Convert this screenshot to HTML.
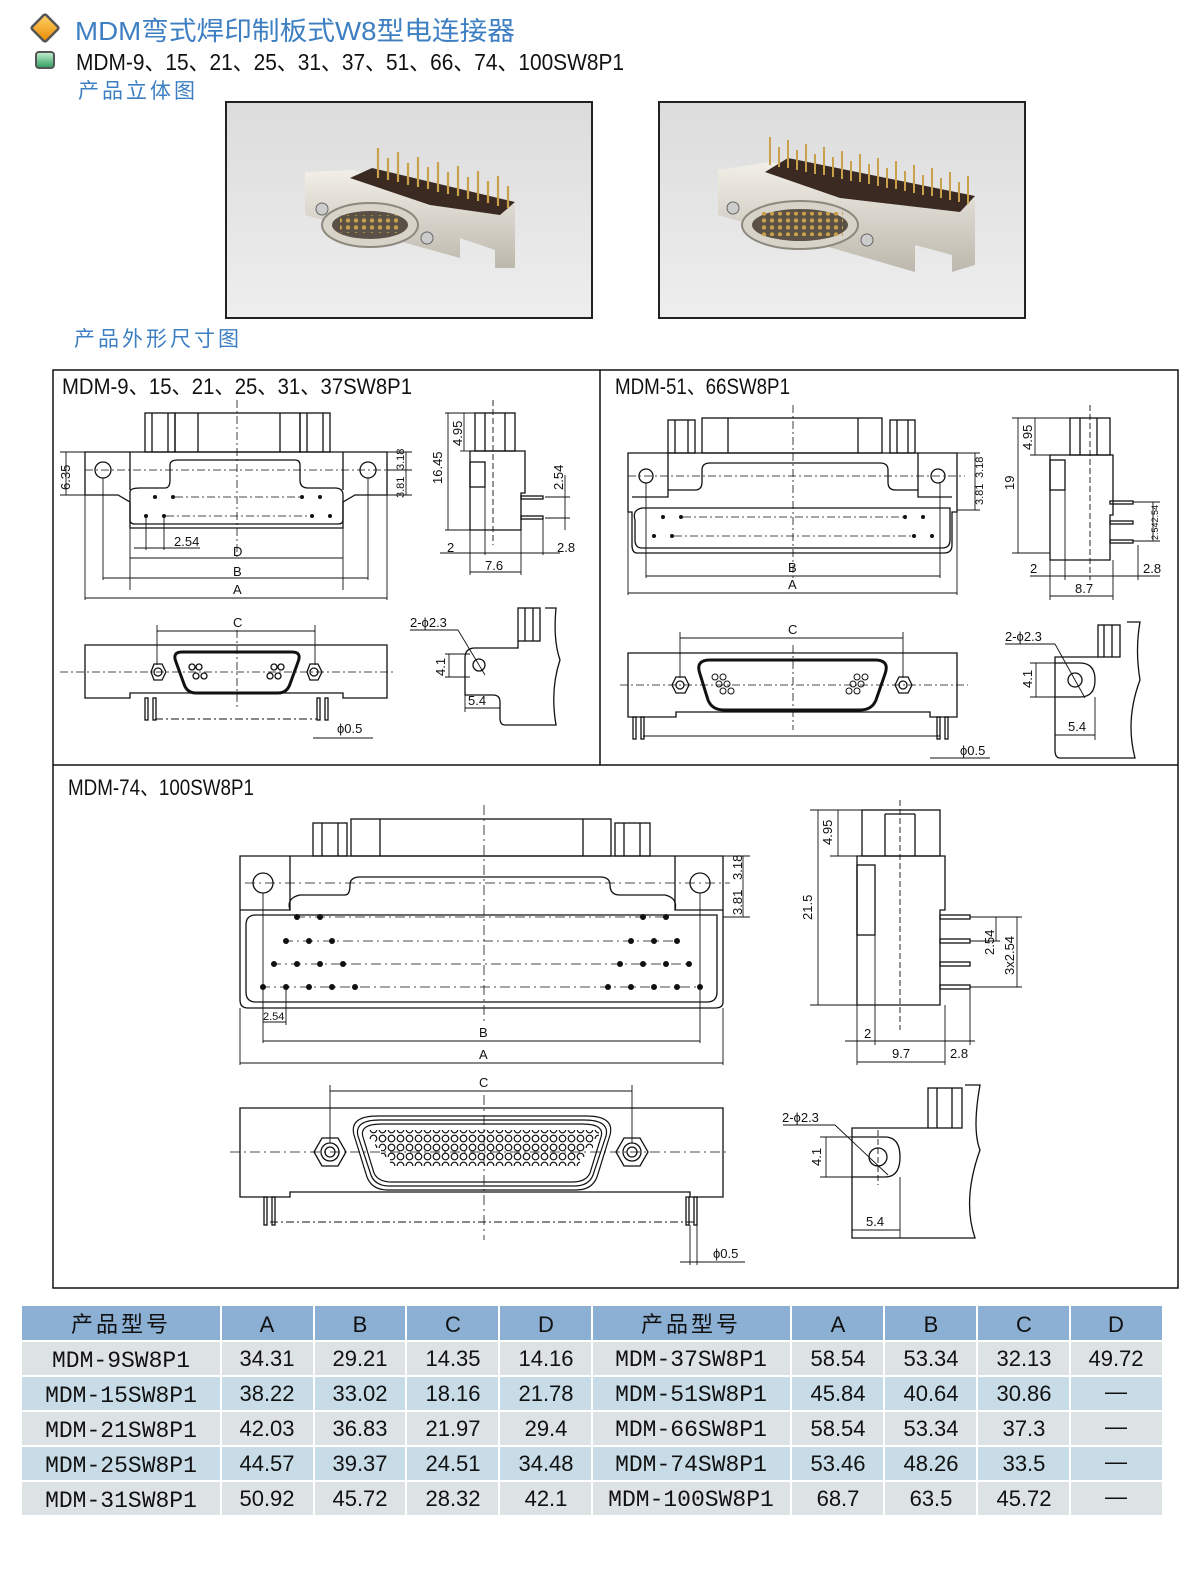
<!DOCTYPE html>
<html><head><meta charset="utf-8"><style>
html,body{margin:0;padding:0;background:#fff;width:1200px;height:1586px;overflow:hidden}
svg{display:block}
.t{font-family:"Liberation Sans","Noto Sans CJK SC",sans-serif}
.n{font-family:"Liberation Sans",sans-serif;font-size:13px;fill:#111}
</style></head><body>
<svg width="1200" height="1586" viewBox="0 0 1200 1586" xmlns="http://www.w3.org/2000/svg">
<defs>
<linearGradient id="bg" x1="0" y1="0" x2="0" y2="1"><stop offset="0" stop-color="#dcdcdc"/><stop offset="1" stop-color="#eeeeee"/></linearGradient>
<linearGradient id="orng" x1="0" y1="0" x2="1" y2="1"><stop offset="0" stop-color="#ffd36b"/><stop offset="1" stop-color="#e88a00"/></linearGradient>
<linearGradient id="grn" x1="0" y1="0" x2="0" y2="1"><stop offset="0" stop-color="#c8efd6"/><stop offset="1" stop-color="#2e9d5c"/></linearGradient>
<linearGradient id="met" x1="0" y1="0" x2="0" y2="1"><stop offset="0" stop-color="#f2efe8"/><stop offset="1" stop-color="#bdb8ad"/></linearGradient>
<pattern id="pins" x="0" y="0" width="9" height="9" patternUnits="userSpaceOnUse"><circle cx="4.5" cy="4.5" r="3.3" fill="none" stroke="#111" stroke-width="1.2"/></pattern>
<pattern id="gold" x="0" y="0" width="8" height="7" patternUnits="userSpaceOnUse"><circle cx="4" cy="3.5" r="2.2" fill="#c8a04a"/></pattern>
<clipPath id="c1"><rect x="226" y="102" width="366" height="216"/></clipPath>
<clipPath id="c2"><rect x="659" y="102" width="366" height="216"/></clipPath>
</defs>

<!-- header -->
<g transform="translate(45,28) rotate(45)"><rect x="-10" y="-10" width="20" height="20" rx="2" fill="url(#orng)" stroke="#555" stroke-width="2.5"/></g>
<text x="75" y="40" class="t" font-size="26" fill="#3d7fc2" textLength="440" lengthAdjust="spacingAndGlyphs">MDM弯式焊印制板式W8型电连接器</text>
<rect x="36" y="52" width="18" height="16" rx="3" fill="url(#grn)" stroke="#555" stroke-width="2"/>
<text x="76" y="70" class="t" font-size="23" fill="#111" textLength="548" lengthAdjust="spacingAndGlyphs">MDM-9、15、21、25、31、37、51、66、74、100SW8P1</text>
<text x="78" y="98" class="t" font-size="21" fill="#3d7fc2" letter-spacing="3">产品立体图</text>
<text x="74" y="346" class="t" font-size="21" fill="#3d7fc2" letter-spacing="3">产品外形尺寸图</text>

<!-- photos -->
<rect x="226" y="102" width="366" height="216" fill="url(#bg)" stroke="#222" stroke-width="2"/>
<g clip-path="url(#c1)">
<polygon points="305,172 352,170 515,205 515,268 495,268 495,250 460,238 460,258 305,215" fill="url(#met)"/>
<polygon points="350,178 372,168 515,202 500,215 430,205" fill="#3b2a22"/>
<path d="M378,178v-30M388,180v-22M398,182v-30M408,185v-22M418,187v-30M428,189v-22M438,192v-30M448,194v-22M458,196v-30M468,199v-22M478,201v-30M488,203v-22M498,206v-30M508,208v-22" stroke="#c9a14a" stroke-width="2.2"/>
<ellipse cx="370" cy="225" rx="48" ry="22" fill="#d7d3c8" stroke="#8d887d" stroke-width="2"/>
<ellipse cx="370" cy="225" rx="38" ry="14" fill="#5b5045"/>
<rect x="340" y="215" width="60" height="18" fill="url(#gold)"/>
<circle cx="322" cy="209" r="6" fill="#ccc" stroke="#666"/>
<circle cx="427" cy="238" r="6" fill="#ccc" stroke="#666"/>
</g>
<rect x="659" y="102" width="366" height="216" fill="url(#bg)" stroke="#222" stroke-width="2"/>
<g clip-path="url(#c2)">
<polygon points="718,170 770,162 975,200 975,265 952,272 952,255 915,245 915,272 718,215" fill="url(#met)"/>
<polygon points="765,172 788,158 975,196 960,212 840,198" fill="#3b2a22"/>
<path d="M770,165v-28M779,167v-20M788,168v-28M797,170v-20M806,172v-28M815,174v-20M824,175v-28M833,177v-20M842,179v-28M851,181v-20M860,182v-28M869,184v-20M878,186v-28M887,188v-20M896,189v-28M905,191v-20M914,193v-28M923,195v-20M932,196v-28M941,198v-20M950,200v-28M959,202v-20M968,204v-28" stroke="#c9a14a" stroke-width="2"/>
<ellipse cx="800" cy="225" rx="58" ry="24" fill="#d7d3c8" stroke="#8d887d" stroke-width="2"/>
<ellipse cx="800" cy="225" rx="48" ry="16" fill="#5b5045"/>
<rect x="758" y="212" width="85" height="24" fill="url(#gold)"/>
<circle cx="733" cy="208" r="6" fill="#ccc" stroke="#666"/>
<circle cx="867" cy="240" r="6" fill="#ccc" stroke="#666"/>
</g>

<!-- panels frame -->
<g fill="none" stroke="#111" stroke-width="1.5">
<rect x="53" y="370" width="1125" height="918"/>
<line x1="600" y1="370" x2="600" y2="765"/>
<line x1="53" y1="765" x2="1178" y2="765"/>
</g>
<g class="t" font-size="22" fill="#111">
<text x="62" y="394" textLength="350" lengthAdjust="spacingAndGlyphs">MDM-9、15、21、25、31、37SW8P1</text>
<text x="615" y="394" textLength="175" lengthAdjust="spacingAndGlyphs">MDM-51、66SW8P1</text>
<text x="68" y="795" textLength="186" lengthAdjust="spacingAndGlyphs">MDM-74、100SW8P1</text>
</g>

<!-- PANEL 1 -->
<g fill="none" stroke="#111" stroke-width="1.3">
<rect x="145" y="413" width="30" height="39"/><line x1="152" y1="413" x2="152" y2="452"/><line x1="168" y1="413" x2="168" y2="452"/>
<rect x="300" y="413" width="30" height="39"/><line x1="307" y1="413" x2="307" y2="452"/><line x1="323" y1="413" x2="323" y2="452"/>
<rect x="175" y="413" width="125" height="39"/><line x1="198" y1="413" x2="198" y2="452"/><line x1="280" y1="413" x2="280" y2="452"/>
<path d="M85,452 H387 V495 H355 L343,502 V528 H130 V502 L118,495 H85 Z"/>
<path d="M130,452 V490 M343,452 V490"/>
<path d="M130,492 Q130,488 140,488 H165 Q170,488 170,480 V465 Q170,460 178,460 H295 Q300,460 300,465 V480 Q300,488 308,488 H335 Q343,488 343,495 V520 Q343,524 338,524 H135 Q130,524 130,520 Z"/>
<circle cx="103" cy="470" r="8"/><circle cx="368" cy="470" r="8"/>
</g>
<g fill="#111">
<circle cx="155" cy="497" r="2"/><circle cx="173" cy="497" r="2"/><circle cx="302" cy="497" r="2"/><circle cx="320" cy="497" r="2"/>
<circle cx="146" cy="516" r="2"/><circle cx="164" cy="516" r="2"/><circle cx="312" cy="516" r="2"/><circle cx="330" cy="516" r="2"/>
</g>
<g stroke="#111" stroke-width="0.8" fill="none" stroke-dasharray="8,3,2,3">
<line x1="237" y1="400" x2="237" y2="560"/><line x1="85" y1="470" x2="395" y2="470"/>
<line x1="175" y1="497" x2="300" y2="497"/><line x1="166" y1="516" x2="310" y2="516"/>
<line x1="60" y1="672" x2="395" y2="672"/><line x1="237" y1="630" x2="237" y2="710"/>
</g>
<g stroke="#111" stroke-width="0.9" fill="none">
<line x1="130" y1="528" x2="130" y2="590"/><line x1="343" y1="528" x2="343" y2="590"/>
<line x1="103" y1="478" x2="103" y2="580"/><line x1="368" y1="478" x2="368" y2="580"/>
<line x1="85" y1="495" x2="85" y2="600"/><line x1="387" y1="495" x2="387" y2="600"/>
<line x1="146" y1="516" x2="146" y2="550"/><line x1="164" y1="516" x2="164" y2="550"/>
<line x1="134" y1="548" x2="200" y2="548"/>
<line x1="130" y1="558" x2="343" y2="558"/><line x1="103" y1="578" x2="368" y2="578"/><line x1="85" y1="598" x2="387" y2="598"/>
<line x1="60" y1="452" x2="85" y2="452"/><line x1="60" y1="495" x2="85" y2="495"/><line x1="66" y1="452" x2="66" y2="495"/>
<line x1="387" y1="452" x2="412" y2="452"/><line x1="387" y1="495" x2="412" y2="495"/><line x1="387" y1="470" x2="412" y2="470"/><line x1="406" y1="452" x2="406" y2="495"/>
</g>
<g class="n">
<text x="174" y="546">2.54</text><text x="233" y="556">D</text><text x="233" y="576">B</text><text x="233" y="594">A</text>
<text x="70" y="490" transform="rotate(-90 70 490)">6.35</text>
<text x="404" y="470" transform="rotate(-90 404 470)" font-size="11">3.18</text>
<text x="404" y="498" transform="rotate(-90 404 498)" font-size="11">3.81</text>
</g>
<!-- side view 1 -->
<g fill="none" stroke="#111" stroke-width="1.3">
<rect x="475" y="413" width="40" height="38"/><line x1="485" y1="413" x2="485" y2="451"/><line x1="505" y1="413" x2="505" y2="451"/>
<path d="M470,451 H525 V493 H521 V530 H470 Z"/>
<rect x="470" y="462" width="15" height="25"/>
<rect x="521" y="496" width="22" height="3"/><rect x="521" y="516" width="22" height="3"/>
</g>
<g stroke="#111" stroke-width="0.9" fill="none">
<line x1="445" y1="413" x2="475" y2="413"/><line x1="445" y1="530" x2="470" y2="530"/><line x1="448" y1="413" x2="448" y2="530"/>
<line x1="460" y1="451" x2="470" y2="451"/><line x1="464" y1="413" x2="464" y2="451"/>
<line x1="545" y1="497" x2="570" y2="497"/><line x1="545" y1="518" x2="570" y2="518"/><line x1="565" y1="475" x2="565" y2="530"/>
<line x1="470" y1="530" x2="470" y2="575"/><line x1="485" y1="487" x2="485" y2="555"/><line x1="521" y1="530" x2="521" y2="575"/><line x1="543" y1="518" x2="543" y2="555"/>
<line x1="440" y1="553" x2="560" y2="553"/><line x1="470" y1="572" x2="521" y2="572"/>
<line x1="493" y1="400" x2="493" y2="545" stroke-dasharray="6,3"/>
</g>
<g class="n"><text x="447" y="552">2</text><text x="485" y="570">7.6</text><text x="557" y="552">2.8</text>
<text x="442" y="484" transform="rotate(-90 442 484)">16.45</text><text x="462" y="446" transform="rotate(-90 462 446)">4.95</text><text x="563" y="490" transform="rotate(-90 563 490)">2.54</text></g>
<!-- bottom view 1 -->
<g fill="none" stroke="#111" stroke-width="1.3">
<path d="M85,645 H387 V698 H343 V693 H130 V698 H85 Z"/>
<path d="M182,652 H292 Q302,652 298,662 L290,684 Q287,693 278,693 H196 Q187,693 184,684 L176,662 Q172,652 182,652 Z" stroke-width="3"/>
<polygon points="151,672 154,664 162,664 166,672 162,680 154,680"/><circle cx="158" cy="672" r="4"/>
<polygon points="307,672 310,664 318,664 322,672 318,680 310,680"/><circle cx="314" cy="672" r="4"/>
<circle cx="192" cy="667" r="3"/><circle cx="199" cy="667" r="3"/><circle cx="196" cy="676" r="3"/><circle cx="204" cy="676" r="3"/>
<circle cx="274" cy="667" r="3"/><circle cx="281" cy="667" r="3"/><circle cx="270" cy="676" r="3"/><circle cx="278" cy="676" r="3"/>
<rect x="145" y="698" width="3" height="22"/><rect x="153" y="698" width="3" height="22"/>
<rect x="317" y="698" width="3" height="22"/><rect x="325" y="698" width="3" height="22"/>
</g>
<g stroke="#111" stroke-width="0.9" fill="none">
<line x1="157" y1="625" x2="157" y2="665"/><line x1="315" y1="625" x2="315" y2="665"/><line x1="157" y1="631" x2="315" y2="631"/>
<line x1="155" y1="719" x2="317" y2="719" stroke-dasharray="8,3,2,3"/>
<line x1="313" y1="738" x2="373" y2="738"/>
</g>
<g class="n"><text x="233" y="627">C</text><text x="337" y="733">ϕ0.5</text></g>
<!-- detail 1 -->
<g fill="none" stroke="#111" stroke-width="1.3">
<rect x="518" y="608" width="22" height="33"/><line x1="525" y1="608" x2="525" y2="641"/><line x1="533" y1="608" x2="533" y2="641"/>
<path d="M545,608 H556 Q553,640 560,660 Q550,690 556,725 H505 Q500,725 500,718 V702 Q500,695 493,695 H465 V658 Q465,648 475,648 H518 V641"/>
<circle cx="479" cy="665" r="6"/>
</g>
<g stroke="#111" stroke-width="0.9" fill="none">
<line x1="410" y1="630" x2="458" y2="630"/><line x1="458" y1="630" x2="485" y2="675"/>
<line x1="445" y1="654" x2="470" y2="654"/><line x1="445" y1="677" x2="470" y2="677"/><line x1="449" y1="654" x2="449" y2="677"/>
<line x1="465" y1="695" x2="465" y2="712"/><line x1="500" y1="700" x2="500" y2="712"/><line x1="465" y1="708" x2="500" y2="708"/>
</g>
<g class="n"><text x="410" y="627">2-ϕ2.3</text><text x="445" y="676" transform="rotate(-90 445 676)">4.1</text><text x="468" y="705">5.4</text></g>

<!-- PANEL 2 -->
<g fill="none" stroke="#111" stroke-width="1.3">
<rect x="668" y="420" width="27" height="33"/><line x1="675" y1="420" x2="675" y2="453"/><line x1="688" y1="420" x2="688" y2="453"/>
<rect x="890" y="420" width="25" height="33"/><line x1="897" y1="420" x2="897" y2="453"/><line x1="908" y1="420" x2="908" y2="453"/>
<rect x="702" y="418" width="180" height="35"/><line x1="728" y1="418" x2="728" y2="453"/><line x1="858" y1="418" x2="858" y2="453"/>
<path d="M628,453 H957 V512 H952 V545 Q952,553 944,553 H637 Q632,553 632,545 V512 H628 Z"/>
<path d="M668,453 V497 H632 M918,453 V497 H952"/>
<path d="M635,520 Q632,510 642,508 H950 V540 Q950,548 942,548 H642 Q635,548 635,540 Z"/>
<path d="M668,490 H695 Q702,490 702,482 V470 Q702,463 710,463 H880 Q888,463 888,470 V482 Q888,490 895,490 H918"/>
<circle cx="646" cy="476" r="7"/><circle cx="938" cy="476" r="7"/>
</g>
<g fill="#111">
<circle cx="663" cy="517" r="2"/><circle cx="681" cy="517" r="2"/><circle cx="905" cy="517" r="2"/><circle cx="923" cy="517" r="2"/>
<circle cx="654" cy="536" r="2"/><circle cx="672" cy="536" r="2"/><circle cx="914" cy="536" r="2"/><circle cx="932" cy="536" r="2"/>
</g>
<g stroke="#111" stroke-width="0.8" fill="none" stroke-dasharray="8,3,2,3">
<line x1="793" y1="405" x2="793" y2="580"/><line x1="628" y1="476" x2="965" y2="476"/>
<line x1="683" y1="517" x2="903" y2="517"/><line x1="674" y1="536" x2="912" y2="536"/>
<line x1="620" y1="685" x2="968" y2="685"/><line x1="793" y1="645" x2="793" y2="730"/>
</g>
<g stroke="#111" stroke-width="0.9" fill="none">
<line x1="646" y1="483" x2="646" y2="578"/><line x1="940" y1="483" x2="940" y2="578"/>
<line x1="628" y1="512" x2="628" y2="595"/><line x1="957" y1="512" x2="957" y2="595"/>
<line x1="646" y1="576" x2="940" y2="576"/><line x1="628" y1="593" x2="957" y2="593"/>
<line x1="957" y1="453" x2="980" y2="453"/><line x1="957" y1="510" x2="980" y2="510"/><line x1="975" y1="453" x2="975" y2="510"/>
</g>
<g class="n"><text x="788" y="572">B</text><text x="788" y="589">A</text>
<text x="983" y="478" transform="rotate(-90 983 478)" font-size="11">3.18</text><text x="983" y="505" transform="rotate(-90 983 505)" font-size="11">3.81</text></g>
<!-- side 2 -->
<g fill="none" stroke="#111" stroke-width="1.3">
<rect x="1070" y="418" width="40" height="37"/><line x1="1080" y1="418" x2="1080" y2="455"/><line x1="1097" y1="418" x2="1097" y2="455"/>
<path d="M1050,455 H1113 V515 H1110 V560 H1050 Z"/>
<rect x="1050" y="460" width="15" height="30"/>
<rect x="1110" y="501" width="23" height="3"/><rect x="1110" y="521" width="23" height="3"/><rect x="1110" y="540" width="23" height="3"/>
</g>
<g stroke="#111" stroke-width="0.9" fill="none">
<line x1="1012" y1="418" x2="1070" y2="418"/><line x1="1012" y1="553" x2="1050" y2="553"/><line x1="1018" y1="418" x2="1018" y2="553"/>
<line x1="1030" y1="455" x2="1050" y2="455"/><line x1="1035" y1="418" x2="1035" y2="455"/>
<line x1="1133" y1="502" x2="1160" y2="502"/><line x1="1133" y1="541" x2="1160" y2="541"/><line x1="1153" y1="502" x2="1153" y2="541"/>
<line x1="1050" y1="560" x2="1050" y2="600"/><line x1="1065" y1="490" x2="1065" y2="580"/><line x1="1113" y1="560" x2="1113" y2="600"/><line x1="1138" y1="545" x2="1138" y2="580"/>
<line x1="1030" y1="576" x2="1160" y2="576"/><line x1="1050" y1="596" x2="1113" y2="596"/>
<line x1="1090" y1="405" x2="1090" y2="580" stroke-dasharray="6,3"/>
</g>
<g class="n"><text x="1030" y="573">2</text><text x="1075" y="593">8.7</text><text x="1143" y="573">2.8</text>
<text x="1014" y="490" transform="rotate(-90 1014 490)">19</text><text x="1032" y="450" transform="rotate(-90 1032 450)">4.95</text>
<text x="1158" y="540" transform="rotate(-90 1158 540)" font-size="9">2.542.54</text></g>
<!-- bottom 2 -->
<g fill="none" stroke="#111" stroke-width="1.3">
<path d="M628,653 H957 V717 H930 V712 H676 V717 H628 Z"/>
<path d="M710,660 H875 Q890,660 885,674 L876,700 Q872,710 860,710 H724 Q712,710 708,700 L700,674 Q695,660 710,660 Z" stroke-width="3"/>
<polygon points="672,685 676,677 685,677 689,685 685,693 676,693"/><circle cx="680" cy="685" r="4"/>
<polygon points="895,685 899,677 908,677 912,685 908,693 899,693"/><circle cx="903" cy="685" r="4"/>
<g stroke-width="1"><circle cx="715" cy="677" r="3"/><circle cx="723" cy="677" r="3"/><circle cx="719" cy="684" r="3"/><circle cx="727" cy="684" r="3"/><circle cx="723" cy="691" r="3"/><circle cx="731" cy="691" r="3"/>
<circle cx="857" cy="677" r="3"/><circle cx="865" cy="677" r="3"/><circle cx="853" cy="684" r="3"/><circle cx="861" cy="684" r="3"/><circle cx="849" cy="691" r="3"/><circle cx="857" cy="691" r="3"/></g>
<rect x="633" y="717" width="3" height="22"/><rect x="641" y="717" width="3" height="22"/>
<rect x="937" y="717" width="3" height="22"/><rect x="945" y="717" width="3" height="22"/>
</g>
<g stroke="#111" stroke-width="0.9" fill="none">
<line x1="680" y1="632" x2="680" y2="678"/><line x1="903" y1="632" x2="903" y2="678"/><line x1="680" y1="638" x2="903" y2="638"/>
<line x1="643" y1="736" x2="940" y2="736"/><line x1="930" y1="758" x2="990" y2="758"/>
</g>
<g class="n"><text x="788" y="634">C</text><text x="960" y="755">ϕ0.5</text></g>
<!-- detail 2 -->
<g fill="none" stroke="#111" stroke-width="1.3">
<rect x="1098" y="625" width="22" height="32"/><line x1="1104" y1="625" x2="1104" y2="657"/><line x1="1112" y1="625" x2="1112" y2="657"/>
<path d="M1127,622 H1140 Q1135,650 1140,680 Q1125,720 1135,758 H1060 Q1055,758 1055,750 V657 H1098 V657"/>
<path d="M1055,663 H1080 Q1095,663 1095,680 Q1095,697 1080,697 H1055"/>
<circle cx="1075" cy="680" r="7"/>
</g>
<g stroke="#111" stroke-width="0.9" fill="none">
<line x1="1005" y1="644" x2="1055" y2="644"/><line x1="1055" y1="644" x2="1085" y2="698"/>
<line x1="1030" y1="663" x2="1055" y2="663"/><line x1="1030" y1="697" x2="1055" y2="697"/><line x1="1036" y1="663" x2="1036" y2="697"/>
<line x1="1055" y1="735" x2="1095" y2="735"/><line x1="1095" y1="697" x2="1095" y2="740"/>
</g>
<g class="n"><text x="1005" y="641">2-ϕ2.3</text><text x="1032" y="688" transform="rotate(-90 1032 688)">4.1</text><text x="1068" y="731">5.4</text></g>

<!-- PANEL 3 -->
<g fill="none" stroke="#111" stroke-width="1.3">
<rect x="313" y="823" width="34" height="33"/><line x1="322" y1="823" x2="322" y2="856"/><line x1="338" y1="823" x2="338" y2="856"/>
<rect x="615" y="823" width="35" height="33"/><line x1="624" y1="823" x2="624" y2="856"/><line x1="640" y1="823" x2="640" y2="856"/>
<rect x="351" y="819" width="260" height="37"/><line x1="380" y1="819" x2="380" y2="856"/><line x1="583" y1="819" x2="583" y2="856"/>
<path d="M240,856 H723 V1002 Q723,1008 715,1008 H248 Q240,1008 240,1000 Z"/>
<path d="M240,910 H290 Q286,898 300,895 H345 Q350,895 350,885 Q350,877 360,877 H600 Q610,877 610,885 Q610,895 620,895 H665 Q678,898 675,910 H723"/>
<path d="M290,856 V910 M675,856 V910"/>
<path d="M246,925 Q246,915 256,915 H717 V992 Q717,1002 707,1002 H256 Q246,1002 246,992 Z"/>
<circle cx="263" cy="883" r="10"/><circle cx="700" cy="883" r="10"/>
</g>
<g stroke="#111" stroke-width="0.8" fill="none" stroke-dasharray="10,4,2,4">
<line x1="484" y1="805" x2="484" y2="1025"/><line x1="245" y1="883" x2="730" y2="883"/>
<line x1="295" y1="917" x2="665" y2="917"/><line x1="283" y1="941" x2="678" y2="941"/>
<line x1="271" y1="964" x2="690" y2="964"/><line x1="260" y1="987" x2="702" y2="987"/>
<line x1="230" y1="1152" x2="730" y2="1152"/><line x1="484" y1="1095" x2="484" y2="1240"/>
</g>
<g fill="#111">
<circle cx="297" cy="917" r="3"/><circle cx="320" cy="917" r="3"/><circle cx="643" cy="917" r="3"/><circle cx="666" cy="917" r="3"/>
<circle cx="286" cy="941" r="3"/><circle cx="309" cy="941" r="3"/><circle cx="332" cy="941" r="3"/><circle cx="631" cy="941" r="3"/><circle cx="654" cy="941" r="3"/><circle cx="677" cy="941" r="3"/>
<circle cx="274" cy="964" r="3"/><circle cx="297" cy="964" r="3"/><circle cx="320" cy="964" r="3"/><circle cx="343" cy="964" r="3"/><circle cx="620" cy="964" r="3"/><circle cx="643" cy="964" r="3"/><circle cx="666" cy="964" r="3"/><circle cx="689" cy="964" r="3"/>
<circle cx="263" cy="987" r="3"/><circle cx="286" cy="987" r="3"/><circle cx="309" cy="987" r="3"/><circle cx="332" cy="987" r="3"/><circle cx="355" cy="987" r="3"/><circle cx="608" cy="987" r="3"/><circle cx="631" cy="987" r="3"/><circle cx="654" cy="987" r="3"/><circle cx="677" cy="987" r="3"/><circle cx="700" cy="987" r="3"/>
</g>
<g stroke="#111" stroke-width="0.9" fill="none">
<line x1="263" y1="893" x2="263" y2="1043"/><line x1="700" y1="893" x2="700" y2="1043"/>
<line x1="286" y1="987" x2="286" y2="1025"/>
<line x1="240" y1="1008" x2="240" y2="1065"/><line x1="723" y1="1008" x2="723" y2="1065"/>
<line x1="263" y1="1022" x2="286" y2="1022"/>
<line x1="263" y1="1041" x2="700" y2="1041"/><line x1="240" y1="1063" x2="723" y2="1063"/>
<line x1="723" y1="856" x2="750" y2="856"/><line x1="723" y1="917" x2="750" y2="917"/><line x1="743" y1="856" x2="743" y2="917"/>
</g>
<g class="n"><text x="263" y="1020" font-size="11">2.54</text><text x="479" y="1037">B</text><text x="479" y="1059">A</text>
<text x="742" y="880" transform="rotate(-90 742 880)">3.18</text><text x="742" y="915" transform="rotate(-90 742 915)">3.81</text></g>
<!-- side 3 -->
<g fill="none" stroke="#111" stroke-width="1.3">
<rect x="862" y="810" width="78" height="46"/><line x1="885" y1="814" x2="885" y2="856"/><line x1="915" y1="814" x2="915" y2="856"/><line x1="885" y1="814" x2="915" y2="814"/>
<path d="M857,856 H945 V910 H940 V1005 H857 Z"/>
<rect x="857" y="865" width="18" height="70"/>
<rect x="940" y="915" width="30" height="4"/><rect x="940" y="939" width="30" height="4"/><rect x="940" y="962" width="30" height="4"/><rect x="940" y="985" width="30" height="4"/>
</g>
<g stroke="#111" stroke-width="0.9" fill="none">
<line x1="810" y1="810" x2="862" y2="810"/><line x1="810" y1="1005" x2="857" y2="1005"/><line x1="818" y1="810" x2="818" y2="1005"/>
<line x1="830" y1="856" x2="857" y2="856"/><line x1="838" y1="810" x2="838" y2="856"/>
<line x1="970" y1="917" x2="1022" y2="917"/><line x1="970" y1="941" x2="1000" y2="941"/><line x1="970" y1="987" x2="1022" y2="987"/>
<line x1="996" y1="917" x2="996" y2="941"/><line x1="1017" y1="917" x2="1017" y2="987"/>
<line x1="857" y1="1005" x2="857" y2="1065"/><line x1="875" y1="935" x2="875" y2="1045"/><line x1="945" y1="1005" x2="945" y2="1065"/><line x1="970" y1="990" x2="970" y2="1045"/>
<line x1="845" y1="1041" x2="975" y2="1041"/><line x1="857" y1="1062" x2="945" y2="1062"/>
<line x1="900" y1="800" x2="900" y2="1030" stroke-dasharray="6,3"/>
</g>
<g class="n"><text x="864" y="1038">2</text><text x="892" y="1058">9.7</text><text x="950" y="1058">2.8</text>
<text x="812" y="920" transform="rotate(-90 812 920)">21.5</text><text x="832" y="845" transform="rotate(-90 832 845)">4.95</text>
<text x="994" y="955" transform="rotate(-90 994 955)">2.54</text><text x="1014" y="975" transform="rotate(-90 1014 975)">3x2.54</text></g>
<!-- bottom 3 -->
<g fill="none" stroke="#111" stroke-width="1.3">
<path d="M240,1108 H723 V1197 H690 V1192 H290 V1197 H240 Z"/>
<path d="M378,1116 H586 Q615,1116 610,1135 L597,1177 Q592,1190 576,1190 H388 Q372,1190 367,1177 L354,1135 Q349,1116 378,1116 Z" stroke-width="1.2"/>
<path d="M380,1120 H584 Q610,1120 606,1136 L593,1175 Q589,1186 574,1186 H390 Q375,1186 371,1175 L358,1136 Q354,1120 380,1120 Z" stroke-width="1.2"/>
<path d="M382,1124 H582 Q605,1124 601,1137 L590,1173 Q586,1182 572,1182 H392 Q378,1182 374,1173 L363,1137 Q359,1124 382,1124 Z" stroke-width="1.2"/>
<rect x="369" y="1130" width="230" height="9" fill="url(#pins)" stroke="none"/>
<rect x="375" y="1139" width="218" height="9" fill="url(#pins)" stroke="none"/>
<rect x="381" y="1148" width="204" height="9" fill="url(#pins)" stroke="none"/>
<rect x="390" y="1157" width="190" height="9" fill="url(#pins)" stroke="none"/>
<polygon points="314,1152 322,1138 338,1138 346,1152 338,1166 322,1166"/><circle cx="330" cy="1152" r="9"/><circle cx="330" cy="1152" r="5"/>
<polygon points="616,1152 624,1138 640,1138 648,1152 640,1166 624,1166"/><circle cx="632" cy="1152" r="9"/><circle cx="632" cy="1152" r="5"/>
<rect x="264" y="1197" width="3" height="28"/><rect x="272" y="1197" width="3" height="28"/>
<rect x="686" y="1197" width="3" height="28"/><rect x="694" y="1197" width="3" height="28"/>
</g>
<g stroke="#111" stroke-width="0.9" fill="none">
<line x1="330" y1="1085" x2="330" y2="1143"/><line x1="632" y1="1085" x2="632" y2="1143"/><line x1="330" y1="1091" x2="632" y2="1091"/>
<line x1="270" y1="1222" x2="695" y2="1222" stroke-dasharray="8,3,2,3"/>
<line x1="690" y1="1225" x2="690" y2="1265"/><line x1="697" y1="1225" x2="697" y2="1265"/>
<line x1="680" y1="1262" x2="745" y2="1262"/>
</g>
<g class="n"><text x="479" y="1087">C</text><text x="713" y="1258">ϕ0.5</text></g>
<!-- detail 3 -->
<g fill="none" stroke="#111" stroke-width="1.3">
<rect x="928" y="1088" width="34" height="40"/><line x1="937" y1="1088" x2="937" y2="1128"/><line x1="952" y1="1088" x2="952" y2="1128"/>
<path d="M965,1085 H980 Q972,1130 980,1150 Q962,1200 975,1238 H852 V1128 H928"/>
<path d="M852,1137 H885 Q900,1137 900,1157 Q900,1177 885,1177 H852"/>
<circle cx="878" cy="1157" r="9"/>
</g>
<g stroke="#111" stroke-width="0.9" fill="none">
<line x1="783" y1="1125" x2="835" y2="1125"/><line x1="835" y1="1125" x2="888" y2="1175"/>
<line x1="820" y1="1137" x2="852" y2="1137"/><line x1="820" y1="1177" x2="852" y2="1177"/><line x1="826" y1="1137" x2="826" y2="1177"/>
<line x1="852" y1="1177" x2="852" y2="1238"/><line x1="900" y1="1177" x2="900" y2="1238"/><line x1="852" y1="1230" x2="900" y2="1230"/>
<line x1="878" y1="1130" x2="878" y2="1185" stroke-dasharray="6,3"/>
</g>
<g class="n"><text x="782" y="1122">2-ϕ2.3</text><text x="821" y="1166" transform="rotate(-90 821 1166)">4.1</text><text x="866" y="1226">5.4</text></g>

<!-- TABLE -->
<g>
<rect x="22" y="1306" width="1140" height="34" fill="#8cb0d4"/>
<rect x="22" y="1342" width="1140" height="33" fill="#dde2e5"/>
<rect x="22" y="1377" width="1140" height="33" fill="#c8dce8"/>
<rect x="22" y="1412" width="1140" height="33" fill="#dde2e5"/>
<rect x="22" y="1447" width="1140" height="33" fill="#c8dce8"/>
<rect x="22" y="1482" width="1140" height="33" fill="#dde2e5"/>
<g fill="#fff">
<rect x="220" y="1306" width="2" height="210"/><rect x="313" y="1306" width="2" height="210"/><rect x="405" y="1306" width="2" height="210"/><rect x="498" y="1306" width="2" height="210"/><rect x="591" y="1306" width="2" height="210"/><rect x="790" y="1306" width="2" height="210"/><rect x="883" y="1306" width="2" height="210"/><rect x="976" y="1306" width="2" height="210"/><rect x="1069" y="1306" width="2" height="210"/>
</g>
</g>
<g class="t" font-size="22" fill="#111" text-anchor="middle">
<text x="121" y="1332" letter-spacing="3">产品型号</text><text x="267" y="1332">A</text><text x="360" y="1332">B</text><text x="453" y="1332">C</text><text x="546" y="1332">D</text>
<text x="691" y="1332" letter-spacing="3">产品型号</text><text x="838" y="1332">A</text><text x="931" y="1332">B</text><text x="1024" y="1332">C</text><text x="1116" y="1332">D</text>
</g>
<g font-family="Liberation Mono,monospace" font-size="23" fill="#111" text-anchor="middle">
<text x="121" y="1367">MDM-9SW8P1</text><text x="121" y="1402">MDM-15SW8P1</text><text x="121" y="1437">MDM-21SW8P1</text><text x="121" y="1472">MDM-25SW8P1</text><text x="121" y="1507">MDM-31SW8P1</text>
<text x="691" y="1366">MDM-37SW8P1</text><text x="691" y="1401">MDM-51SW8P1</text><text x="691" y="1436">MDM-66SW8P1</text><text x="691" y="1471">MDM-74SW8P1</text><text x="691" y="1506">MDM-100SW8P1</text>
</g>
<g font-family="Liberation Sans,sans-serif" font-size="22" fill="#111" text-anchor="middle">
<text x="267" y="1366">34.31</text><text x="360" y="1366">29.21</text><text x="453" y="1366">14.35</text><text x="546" y="1366">14.16</text>
<text x="267" y="1401">38.22</text><text x="360" y="1401">33.02</text><text x="453" y="1401">18.16</text><text x="546" y="1401">21.78</text>
<text x="267" y="1436">42.03</text><text x="360" y="1436">36.83</text><text x="453" y="1436">21.97</text><text x="546" y="1436">29.4</text>
<text x="267" y="1471">44.57</text><text x="360" y="1471">39.37</text><text x="453" y="1471">24.51</text><text x="546" y="1471">34.48</text>
<text x="267" y="1506">50.92</text><text x="360" y="1506">45.72</text><text x="453" y="1506">28.32</text><text x="546" y="1506">42.1</text>
<text x="838" y="1366">58.54</text><text x="931" y="1366">53.34</text><text x="1024" y="1366">32.13</text><text x="1116" y="1366">49.72</text>
<text x="838" y="1401">45.84</text><text x="931" y="1401">40.64</text><text x="1024" y="1401">30.86</text><text x="1116" y="1399">—</text>
<text x="838" y="1436">58.54</text><text x="931" y="1436">53.34</text><text x="1024" y="1436">37.3</text><text x="1116" y="1434">—</text>
<text x="838" y="1471">53.46</text><text x="931" y="1471">48.26</text><text x="1024" y="1471">33.5</text><text x="1116" y="1469">—</text>
<text x="838" y="1506">68.7</text><text x="931" y="1506">63.5</text><text x="1024" y="1506">45.72</text><text x="1116" y="1504">—</text>
</g>
</svg>
</body></html>
